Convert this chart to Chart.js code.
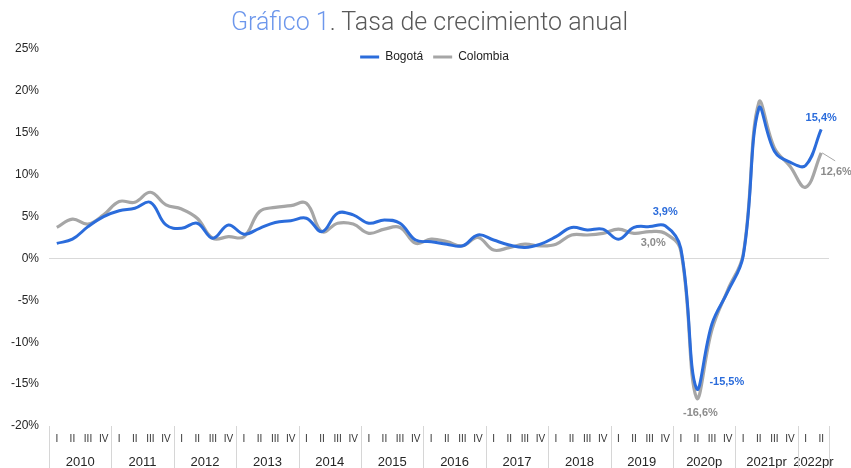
<!DOCTYPE html>
<html>
<head>
<meta charset="utf-8">
<script src="https://cdn.jsdelivr.net/npm/chart.js@4.4.1/dist/chart.umd.min.js"></script>
<style>
html,body{margin:0;padding:0;background:#fff;}
#wrap{position:relative;width:851px;height:468px;overflow:hidden;}
#c{position:absolute;left:0;top:0;}
#title{position:absolute;left:4px;top:8px;width:851px;text-align:center;font-family:Roboto,'Liberation Sans',sans-serif;font-weight:300;font-size:25px;line-height:28px;color:#595959;white-space:nowrap;}
#title .b{color:#6d97ec;}
</style>
</head>
<body>
<div id="wrap">
<canvas id="c" width="851" height="468"></canvas>
<div id="title"><span class="b">Gráfico 1</span>. Tasa de crecimiento anual</div>
</div>
<script>
// ---- data ----
const years = ['2010','2011','2012','2013','2014','2015','2016','2017','2018','2019','2020p','2021pr','2022pr'];
const quartersPerYear = [4,4,4,4,4,4,4,4,4,4,4,4,2];
const quarterNames = ['I','II','III','IV'];
const bogota = [
  1.8, 2.3, 3.8, 5.0,
  5.7, 6.0, 6.7, 4.0,
  3.6, 4.2, 2.4, 4.0,
  2.9, 3.6, 4.3, 4.5,
  4.8, 3.2, 5.4, 5.2,
  4.2, 4.6, 4.2, 2.2,
  2.0, 1.7, 1.5, 2.8,
  2.2, 1.6, 1.3, 1.7,
  2.6, 3.7, 3.4, 3.5,
  2.3, 3.7, 3.8, 3.9,
  1.2, -15.5, -7.8, -4.0,
  0.3, 17.9, 12.8, 11.5,
  11.1, 15.4
];
const colombia = [
  3.7, 4.7, 4.1, 5.2,
  6.8, 6.7, 7.9, 6.4,
  5.9, 4.8, 2.4, 2.6,
  2.6, 5.6, 6.1, 6.3,
  6.6, 3.2, 4.2, 4.1,
  3.0, 3.5, 3.7, 1.8,
  2.3, 2.0, 1.5, 2.5,
  1.0, 1.3, 1.7, 1.5,
  1.7, 2.8, 2.8, 3.0,
  3.5, 3.0, 3.2, 3.0,
  0.9, -16.6, -8.5, -3.8,
  0.5, 18.6, 13.2, 11.0,
  8.5, 12.6
];
const yTicks = [-20,-15,-10,-5,0,5,10,15,20,25];
// points that carry a value label: [dataset, index]
const labelledPoints = [[0,39],[1,39],[0,41],[1,41],[0,49],[1,49]];

// ---- derived category structure ----
const quarterLabels = [];
const yearStarts = [];
const yearCenters = [];
quartersPerYear.forEach((n) => {
  yearStarts.push(quarterLabels.length);
  yearCenters.push(quarterLabels.length + (n - 1) / 2);
  for (let q = 0; q < n; q++) quarterLabels.push(quarterNames[q]);
});
const nPts = quarterLabels.length;

const BLUE = '#2b6cdb';
const GRAY = '#a6a6a6';
const FONT = "'Liberation Sans', Arial, sans-serif";
Chart.defaults.font.family = FONT;

const fmt = (v) => v.toFixed(1).replace('.', ',') + '%';

// label styling per labelled point (offsets relative to the point)
const labelStyle = [
  {dx: 0, dy: -14, align: 'center', color: BLUE},
  {dx: -12, dy: 10, align: 'center', color: '#8c8c8c'},
  {dx: 13, dy: -6, align: 'left', color: BLUE},
  {dx: 4, dy: 15, align: 'center', color: '#8c8c8c'},
  {dx: 0, dy: -11, align: 'center', color: BLUE},
  {dx: 15, dy: 19, align: 'center', color: '#8c8c8c', leader: true}
];

const PLOT_TOP = 49;
const LEGEND_CENTER_Y = 57;
const LEGEND_SHIFT_X = 20;

const separators = {
  id: 'separators',
  afterDraw(chart) {
    const s = chart.scales.x2;
    const ctx = chart.ctx;
    const bounds = yearStarts.concat([nPts]);
    ctx.save();
    ctx.strokeStyle = '#d6d6d6';
    ctx.lineWidth = 1;
    bounds.forEach((b) => {
      const x = Math.round(s.getPixelForValue(b - 0.5)) + 0.5;
      ctx.beginPath();
      ctx.moveTo(x, chart.chartArea.bottom);
      ctx.lineTo(x, chart.height);
      ctx.stroke();
    });
    ctx.restore();
  }
};

const valueLabels = {
  id: 'valueLabels',
  afterDatasetsDraw(chart) {
    const ctx = chart.ctx;
    ctx.save();
    ctx.font = "bold 11px " + FONT;
    ctx.textBaseline = 'middle';
    labelledPoints.forEach(([ds, idx], k) => {
      const st = labelStyle[k];
      const el = chart.getDatasetMeta(ds).data[idx];
      const v = chart.data.datasets[ds].data[idx];
      const tx = el.x + st.dx, ty = el.y + st.dy;
      if (st.leader) {
        ctx.strokeStyle = '#a6a6a6';
        ctx.lineWidth = 1;
        ctx.beginPath();
        ctx.moveTo(el.x + 1, el.y);
        ctx.lineTo(el.x + 14, el.y + 8);
        ctx.stroke();
      }
      ctx.fillStyle = st.color;
      ctx.textAlign = st.align;
      ctx.fillText(fmt(v), tx, ty);
    });
    ctx.restore();
  }
};

// move the (top) legend down so that it overlays the plot like in the reference
const legendShift = {
  id: 'legendShift',
  afterLayout(chart) {
    const lg = chart.legend;
    if (!lg) return;
    const pad = lg.options.labels.padding;
    const itemH = Math.max(lg.options.labels.boxHeight, lg.options.labels.font.size);
    const h = lg.height;
    lg.top = LEGEND_CENTER_Y - pad - itemH / 2;
    lg.bottom = lg.top + h;
    lg.left += LEGEND_SHIFT_X;
    lg.right += LEGEND_SHIFT_X;
  }
};

const chart = new Chart(document.getElementById('c'), {
  type: 'line',
  data: {
    labels: quarterLabels,
    datasets: [
      {label: 'Bogotá', data: bogota, borderColor: BLUE, backgroundColor: BLUE, borderWidth: 3,
       pointRadius: 0, tension: 0.4, xAxisID: 'x', yAxisID: 'y'},
      {label: 'Colombia', data: colombia, borderColor: GRAY, backgroundColor: GRAY, borderWidth: 3.2,
       pointRadius: 0, tension: 0.4, xAxisID: 'x', yAxisID: 'y'}
    ]
  },
  options: {
    responsive: false,
    animation: false,
    layout: {padding: {top: 10, right: 22, left: 0, bottom: 0}},
    plugins: {
      title: {display: false},
      tooltip: {enabled: false},
      legend: {
        position: 'top',
        align: 'center',
        labels: {
          boxWidth: 19, boxHeight: 3, padding: 10, color: '#222',
          font: {size: 12, family: FONT},
          generateLabels: (c) => Chart.defaults.plugins.legend.labels.generateLabels(c)
            .map((l) => Object.assign(l, {lineWidth: 0}))
        }
      }
    },
    scales: {
      y: {
        min: -20, max: 25,
        afterBuildTicks: (s) => { s.ticks = yTicks.map((v) => ({value: v})); },
        afterFit: (s) => { s.width = 49; },
        ticks: {callback: (v) => v + '%', color: '#262626', font: {size: 12}, padding: 10},
        grid: {drawTicks: false, color: (c) => (c.tick && c.tick.value === 0) ? '#d9d9d9' : 'rgba(0,0,0,0)'},
        border: {display: false}
      },
      x: {
        type: 'category',
        position: 'bottom',
        offset: true,
        weight: 0,
        afterFit: (s) => { s.height = 20; },
        ticks: {autoSkip: false, maxRotation: 0, color: '#333', font: {size: 10}, padding: 7.5},
        grid: {display: false, drawTicks: false},
        border: {display: false}
      },
      x2: {
        type: 'linear',
        position: 'bottom',
        weight: 1,
        min: -0.5, max: nPts - 0.5,
        afterBuildTicks: (s) => { s.ticks = yearCenters.map((v) => ({value: v})); },
        afterFit: (s) => { s.height = 22; },
        ticks: {
          autoSkip: false, maxRotation: 0, color: '#262626', font: {size: 13}, padding: 9,
          callback: (v) => { const i = yearCenters.indexOf(v); return i >= 0 ? years[i] : ''; }
        },
        grid: {display: false, drawTicks: false},
        border: {display: false}
      }
    }
  },
  plugins: [separators, valueLabels, legendShift]
});
// make the plot area start exactly at PLOT_TOP whatever the legend height is
const diff = chart.chartArea.top - PLOT_TOP;
if (Math.abs(diff) > 0.01) {
  chart.options.layout.padding.top = Math.max(0, 10 - diff);
  chart.update();
}
</script>
</body>
</html>
